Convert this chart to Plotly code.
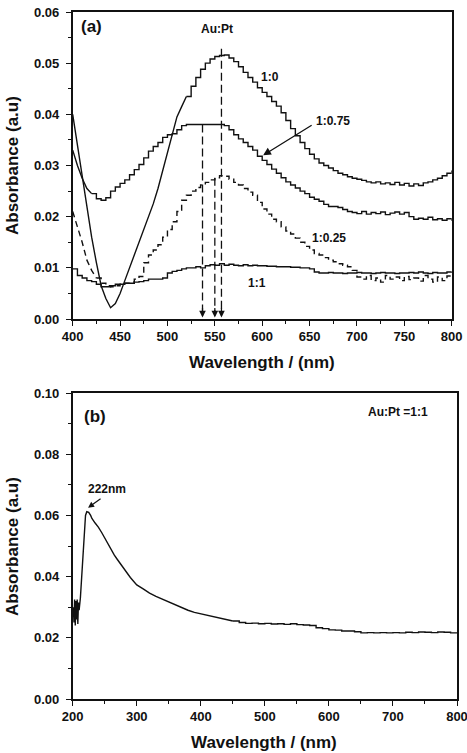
import plotly.graph_objects as go

W, H = 467, 753

# ---------------- Panel (a) data ----------------
wl_a = list(range(400, 805, 5))

abs_1_0 = [0.0400, 0.0340, 0.0280, 0.0220, 0.0160, 0.0110, 0.0065, 0.0040, 0.0022, 0.0030,
           0.0050, 0.0075, 0.0100, 0.0125, 0.0150, 0.0172, 0.0198, 0.0225, 0.0255, 0.0290,
           0.0330, 0.0365, 0.0395, 0.0415, 0.0435, 0.0455, 0.0472, 0.0488, 0.0500, 0.0508,
           0.0513, 0.0515, 0.0516, 0.0510, 0.0503, 0.0493, 0.0482, 0.0472, 0.0463, 0.0452,
           0.0443, 0.0435, 0.0425, 0.0416, 0.0403, 0.0388, 0.0372, 0.0358, 0.0345, 0.0333,
           0.0322, 0.0313, 0.0305, 0.0300, 0.0295, 0.0290, 0.0285, 0.0282, 0.0278, 0.0275,
           0.0273, 0.0271, 0.0268, 0.0266, 0.0268, 0.0264, 0.0266, 0.0263, 0.0267, 0.0262,
           0.0265, 0.0260, 0.0264, 0.0261, 0.0266, 0.0268, 0.0272, 0.0275, 0.0280, 0.0285,
           0.0290]

abs_1_075 = [0.0330, 0.0300, 0.0275, 0.0255, 0.0245, 0.0235, 0.0232, 0.0237, 0.0250, 0.0258,
             0.0265, 0.0272, 0.0282, 0.0292, 0.0302, 0.0315, 0.0328, 0.0337, 0.0345, 0.0355,
             0.0360, 0.0362, 0.0370, 0.0378, 0.0380, 0.0380, 0.0380, 0.0380, 0.0380, 0.0380,
             0.0380, 0.0380, 0.0378, 0.0370, 0.0360, 0.0352, 0.0345, 0.0337, 0.0330, 0.0318,
             0.0310, 0.0302, 0.0293, 0.0285, 0.0276, 0.0268, 0.0262, 0.0256, 0.0250, 0.0245,
             0.0238, 0.0234, 0.0230, 0.0224, 0.0220, 0.0220, 0.0218, 0.0214, 0.0210, 0.0208,
             0.0206, 0.0210, 0.0205, 0.0208, 0.0206, 0.0209, 0.0204, 0.0207, 0.0209, 0.0205,
             0.0208, 0.0200, 0.0195, 0.0197, 0.0195, 0.0199, 0.0194, 0.0196, 0.0193, 0.0196,
             0.0192]

abs_1_025 = [0.0210, 0.0180, 0.0150, 0.0115, 0.0095, 0.0080, 0.0070, 0.0065, 0.0063, 0.0065,
             0.0068, 0.0070, 0.0072, 0.0078, 0.0083, 0.0110, 0.0125, 0.0135, 0.0145, 0.0160,
             0.0175, 0.0190, 0.0210, 0.0232, 0.0242, 0.0250, 0.0257, 0.0262, 0.0267, 0.0272,
             0.0276, 0.0280, 0.0279, 0.0273, 0.0267, 0.0262, 0.0255, 0.0248, 0.0242, 0.0228,
             0.0215, 0.0205, 0.0195, 0.0190, 0.0180, 0.0172, 0.0166, 0.0158, 0.0150, 0.0142,
             0.0135, 0.0128, 0.0125, 0.0120, 0.0115, 0.0112, 0.0108, 0.0105, 0.0102, 0.0095,
             0.0082, 0.0078, 0.0085, 0.0075, 0.0080, 0.0072, 0.0085, 0.0078, 0.0082, 0.0075,
             0.0083, 0.0077, 0.0080, 0.0074, 0.0085, 0.0078, 0.0072, 0.0082, 0.0075, 0.0084,
             0.0080]

abs_1_1 = [0.0098, 0.0085, 0.0080, 0.0075, 0.0073, 0.0068, 0.0063, 0.0063, 0.0065, 0.0068,
           0.0068, 0.0070, 0.0070, 0.0072, 0.0073, 0.0075, 0.0078, 0.0078, 0.0078, 0.0080,
           0.0090, 0.0093, 0.0095, 0.0098, 0.0100, 0.0100, 0.0102, 0.0100, 0.0104, 0.0106,
           0.0105, 0.0108, 0.0105, 0.0107, 0.0105, 0.0104, 0.0106, 0.0104, 0.0105, 0.0104,
           0.0104, 0.0103, 0.0103, 0.0102, 0.0102, 0.0102, 0.0101, 0.0101, 0.0100, 0.0100,
           0.0098, 0.0092, 0.0090, 0.0090, 0.0091, 0.0090, 0.0090, 0.0089, 0.0090, 0.0090,
           0.0091, 0.0090, 0.0090, 0.0089, 0.0090, 0.0091, 0.0090, 0.0090, 0.0089, 0.0090,
           0.0090, 0.0091, 0.0090, 0.0092, 0.0090, 0.0089, 0.0091, 0.0090, 0.0090, 0.0092,
           0.0090]

peak_nm = [537, 550, 557]
peak_top = [0.0380, 0.0276, 0.0528]

# ---------------- Panel (b) data ----------------
wl_b = [201, 202, 203, 204, 205, 206, 207, 208, 209, 210, 212, 214, 216, 218, 220, 222, 225, 228,
        230, 235, 240, 245, 250, 255, 260, 265, 270, 275, 280, 285, 290, 295, 300,
        310, 320, 330, 340, 350, 360, 370, 380, 390, 400, 410, 420, 430, 440, 450,
        460, 470, 480, 490, 500, 510, 520, 530, 540, 550, 560, 570, 580, 590, 600,
        610, 620, 630, 640, 650, 660, 670, 680, 690, 700, 710, 720, 730, 740, 750,
        760, 770, 780, 790, 800]
abs_b = [0.0300, 0.0250, 0.0325, 0.0240, 0.0320, 0.0260, 0.0325, 0.0245, 0.0315, 0.0290, 0.0330,
         0.0400, 0.0490, 0.0560, 0.0600, 0.0612, 0.0610, 0.0600,
         0.0590, 0.0575, 0.0562, 0.0545, 0.0525, 0.0505, 0.0488, 0.0470, 0.0455, 0.0440, 0.0425,
         0.0410, 0.0397, 0.0385, 0.0373,
         0.0360, 0.0346, 0.0335, 0.0326, 0.0317, 0.0308, 0.0298, 0.0290, 0.0283, 0.0278, 0.0274,
         0.0270, 0.0265, 0.0260, 0.0255,
         0.0250, 0.0247, 0.0248, 0.0246, 0.0247, 0.0245, 0.0246, 0.0244, 0.0246, 0.0243, 0.0242,
         0.0240, 0.0233, 0.0230, 0.0226,
         0.0225, 0.0222, 0.0222, 0.0220, 0.0216, 0.0217, 0.0216, 0.0217, 0.0216, 0.0217, 0.0216,
         0.0218, 0.0217, 0.0219, 0.0218,
         0.0217, 0.0219, 0.0218, 0.0216, 0.0217]

# ---------------- helpers ----------------
def px(x):
    return x / W

def py(y):
    return 1 - y / H

FONT = "Arial, Liberation Sans, sans-serif"
INK = "#111111"
LW = 1.4

fig = go.Figure()

def add_seg(x, y, dash, shape, xa="x", ya="y"):
    fig.add_trace(go.Scatter(x=x, y=y, mode="lines",
                             line=dict(color=INK, width=LW, dash=dash, shape=shape),
                             xaxis=xa, yaxis=ya, showlegend=False, hoverinfo="skip"))

# 1:0 — steep part drawn as straight segments, the rest as recorder steps
add_seg(wl_a[:25], abs_1_0[:25], "solid", "linear")
add_seg(wl_a[24:], abs_1_0[24:], "solid", "hv")
# 1:0.75
add_seg(wl_a[:5], abs_1_075[:5], "solid", "linear")
add_seg(wl_a[4:], abs_1_075[4:], "solid", "hv")
# 1:0.25 (dashed)
add_seg(wl_a[:6], abs_1_025[:6], "6px,4px", "linear")
add_seg(wl_a[5:], abs_1_025[5:], "6px,4px", "hv")
# 1:1
add_seg(wl_a, abs_1_1, "solid", "hv")

for p, t in zip(peak_nm, peak_top):
    fig.add_trace(go.Scatter(x=[p, p], y=[t, 0.0015], mode="lines",
                             line=dict(color=INK, width=1.3, dash="8px,4px"),
                             xaxis="x", yaxis="y", showlegend=False, hoverinfo="skip"))

# panel (b)
add_seg(wl_b[:48], abs_b[:48], "solid", "linear", "x2", "y2")
add_seg(wl_b[47:], abs_b[47:], "solid", "hv", "x2", "y2")

tickfont = dict(family=FONT, size=13, color=INK, weight="bold")

def xax(domain, rng, dtick, minor, anchor):
    return dict(domain=domain, range=rng, dtick=dtick, tick0=rng[0], anchor=anchor,
                showline=True, linecolor=INK, linewidth=1.5, mirror=True, automargin=False,
                ticks="outside", ticklen=5, tickwidth=1.3, tickcolor=INK,
                ticklabeloverflow="allow",
                minor=dict(ticks="outside", ticklen=3, dtick=minor, tickwidth=1.2, tickcolor=INK),
                showgrid=False, zeroline=False, tickfont=tickfont, fixedrange=True)

def yax(domain, rng, dtick, minor, anchor):
    return dict(domain=domain, range=rng, dtick=dtick, tick0=0, anchor=anchor,
                showline=True, linecolor=INK, linewidth=1.5, mirror=True, automargin=False,
                ticks="outside", ticklen=5, tickwidth=1.3, tickcolor=INK,
                minor=dict(ticks="outside", ticklen=3, dtick=minor, tickwidth=1.2, tickcolor=INK),
                showgrid=False, zeroline=False, tickfont=tickfont, tickformat=".2f",
                ticklabelstandoff=4, fixedrange=True)

fig.update_layout(
    template="none",
    width=W, height=H,
    margin=dict(l=0, r=0, t=0, b=0, pad=0),
    paper_bgcolor="white", plot_bgcolor="white",
    xaxis=xax([px(72.7), px(451.7)], [400, 800], 50, 25, "y"),
    yaxis=yax([py(319), py(12)], [0, 0.06], 0.01, 0.005, "x"),
    xaxis2=xax([px(72.7), px(457)], [200, 800], 100, 50, "y2"),
    yaxis2=yax([py(699), py(393)], [0, 0.10], 0.02, 0.01, "x2"),
)

def label(text, x, y, size=12, angle=0):
    fig.add_annotation(text=text, x=px(x), y=py(y), xref="paper", yref="paper",
                       showarrow=False, textangle=angle, xanchor="center", yanchor="middle",
                       font=dict(family=FONT, size=size, color=INK, weight="bold"))

# axis titles
label("Absorbance (a.u)", 12, 166, 17, -90)
label("Absorbance (a.u)", 12, 547, 17, -90)
label("Wavelength / (nm)", 262, 362, 17)
label("Wavelength / (nm)", 264, 742, 17)

# panel labels
label("(a)", 91, 27, 17)
label("Au:Pt", 217, 29, 12)
label("1:0", 270, 77, 12)
label("1:0.75", 333, 121, 12)
label("1:0.25", 329, 238, 12)
label("1:1", 257, 283, 12)
label("(b)", 95, 417, 17)
label("Au:Pt =1:1", 398, 412, 12)
label("222nm", 107, 489, 12)

# arrows
fig.add_annotation(x=601, y=0.0320, xref="x", yref="y", ax=50, ay=-31, text="",
                   showarrow=True, arrowhead=2, arrowsize=1.2, arrowwidth=1.3, arrowcolor=INK)
fig.add_annotation(x=224, y=0.0625, xref="x2", yref="y2", ax=14, ay=-10, text="",
                   showarrow=True, arrowhead=2, arrowsize=1.0, arrowwidth=1.2, arrowcolor=INK)
for p in peak_nm:
    fig.add_annotation(x=p, y=0.0003, xref="x", yref="y", ax=0, ay=-11, text="",
                       showarrow=True, arrowhead=2, arrowsize=1.1, arrowwidth=1.2, arrowcolor=INK)

fig.write_html("out.html", post_script="document.body.style.margin='0';document.body.style.overflow='hidden';")
